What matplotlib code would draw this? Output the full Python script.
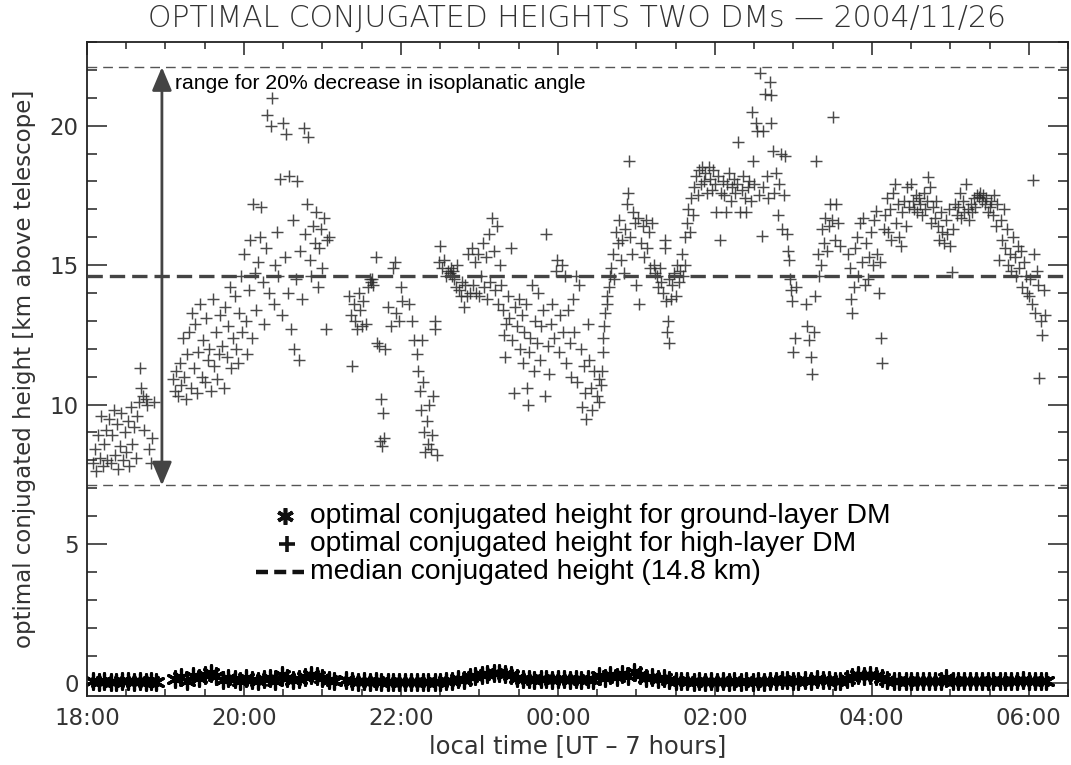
import matplotlib
matplotlib.use("Agg")
import matplotlib.pyplot as plt
from matplotlib.lines import Line2D
import numpy as np

# ---------------- data ----------------
title = "OPTIMAL CONJUGATED HEIGHTS TWO DMs \u2014 2004/11/26"
x_label = "local time [UT \u2013 7 hours]"
y_label = "optimal conjugated height [km above telescope]"
x_tick_pos = [18, 20, 22, 24, 26, 28, 30]
x_tick_labels = ["18:00", "20:00", "22:00", "00:00", "02:00", "04:00", "06:00"]
y_tick_pos = [0, 5, 10, 15, 20]

range_high = 22.1     # km, upper limit for 20% decrease
range_low = 7.1       # km, lower limit
median_height = 14.6  # km, drawn median line
arrow_time = 18.955   # local time of the range arrow
range_text = "range for 20% decrease in isoplanatic angle"
range_text_pos = (19.12, 21.5)

legend_labels = ["optimal conjugated height for ground-layer DM",
                 "optimal conjugated height for high-layer DM",
                 "median conjugated height (14.8 km)"]

# ground-layer DM (time [h since 0h of 2004/11/26, >24 = next day], height km)
ground_time = [
    18.08, 18.15, 18.22, 18.30, 18.37, 18.45, 18.52, 18.60, 18.67, 18.75, 18.82, 18.88,
    19.12, 19.20, 19.28, 19.35, 19.43, 19.50, 19.58, 19.65, 19.73, 19.80, 19.88, 19.95,
    20.03, 20.10, 20.18, 20.25, 20.33, 20.40, 20.48, 20.55, 20.63, 20.70, 20.78, 20.85,
    20.93, 21.00, 21.08, 21.15,
    21.30, 21.38, 21.45, 21.53, 21.60, 21.68, 21.75, 21.83, 21.90, 21.98, 22.05, 22.13,
    22.20, 22.28, 22.35, 22.43, 22.50,
    22.58, 22.65, 22.73, 22.80, 22.88, 22.95, 23.03, 23.10, 23.18, 23.25, 23.33, 23.40,
    23.48, 23.55, 23.63, 23.70, 23.78, 23.85, 23.93, 24.00, 24.08, 24.15, 24.23, 24.30,
    24.38, 24.45,
    24.52, 24.60, 24.67, 24.75, 24.82, 24.90, 24.97, 25.05, 25.12, 25.20, 25.27, 25.35,
    25.42, 25.50, 25.57,
    25.65, 25.73, 25.80, 25.88, 25.95, 26.03, 26.10, 26.18, 26.25, 26.33, 26.40, 26.48,
    26.55, 26.63, 26.70, 26.78, 26.85,
    26.92, 27.00, 27.06, 27.15, 27.23, 27.30, 27.38, 27.45, 27.53, 27.60,
    27.69, 27.75, 27.83, 27.90, 27.98, 28.05, 28.13, 28.20, 28.28, 28.35, 28.43, 28.50,
    28.58, 28.65, 28.73, 28.80, 28.88, 28.95, 29.03, 29.10, 29.18, 29.25, 29.33, 29.40,
    29.48, 29.55, 29.63, 29.70, 29.78, 29.85, 29.93, 30.00, 30.08, 30.15, 30.22]
ground_height = [
    0.08, 0.05, 0.10, 0.06, 0.05, 0.09, 0.07, 0.05, 0.10, 0.06, 0.08, 0.05,
    0.15, 0.22, 0.10, 0.28, 0.18, 0.30, 0.38, 0.25, 0.12, 0.20, 0.15, 0.10,
    0.18, 0.12, 0.08, 0.15, 0.20, 0.10, 0.32, 0.18, 0.12, 0.15, 0.22, 0.30,
    0.25, 0.18, 0.12, 0.08,
    0.12, 0.08, 0.06, 0.07, 0.05, 0.07, 0.06, 0.05, 0.06, 0.05, 0.06, 0.05,
    0.05, 0.06, 0.05, 0.06, 0.06,
    0.08, 0.10, 0.15, 0.12, 0.22, 0.28, 0.32, 0.35, 0.38, 0.36, 0.33, 0.30,
    0.20, 0.16, 0.15, 0.14, 0.16, 0.15, 0.13, 0.15, 0.16, 0.14, 0.15, 0.13,
    0.16, 0.14,
    0.25, 0.18, 0.30, 0.22, 0.35, 0.28, 0.40, 0.30, 0.20, 0.24, 0.15, 0.18,
    0.12, 0.10, 0.08,
    0.07, 0.06, 0.07, 0.06, 0.07, 0.06, 0.07, 0.06, 0.07, 0.06, 0.07, 0.06,
    0.07, 0.06, 0.07, 0.08, 0.12,
    0.14, 0.10, 0.08, 0.12, 0.09, 0.15, 0.12, 0.11, 0.09, 0.10,
    0.15, 0.22, 0.30, 0.25, 0.32, 0.28, 0.18, 0.12, 0.10, 0.09, 0.08, 0.07,
    0.08, 0.07, 0.07, 0.08, 0.07, 0.20, 0.07, 0.07, 0.08, 0.07, 0.08, 0.07,
    0.07, 0.08, 0.07, 0.07, 0.09, 0.10, 0.12, 0.09, 0.10, 0.08, 0.07]

# high-layer DM, (time, height km) pairs per stretch of the night
high_1800 = [(18.08, 7.9), (18.10, 8.4), (18.12, 7.6), (18.14, 8.9), (18.16, 8.1), (18.18, 9.6),
             (18.20, 7.8), (18.22, 8.6), (18.24, 9.1), (18.26, 8.0), (18.28, 9.5), (18.30, 7.9),
             (18.32, 8.9), (18.34, 9.8), (18.36, 8.2), (18.38, 9.3), (18.40, 7.7), (18.42, 8.5),
             (18.44, 9.7), (18.46, 8.0), (18.48, 9.0), (18.50, 8.3), (18.52, 9.4), (18.54, 7.8),
             (18.56, 9.9), (18.58, 8.6), (18.60, 9.2), (18.62, 8.1), (18.64, 9.6), (18.66, 10.1),
             (18.67, 11.3), (18.69, 10.6), (18.71, 10.3), (18.73, 9.1), (18.75, 10.2), (18.77, 10.0),
             (18.79, 8.4), (18.81, 7.9), (18.83, 8.8), (18.85, 10.1)]
high_1900 = [(19.10, 10.9), (19.12, 10.5), (19.14, 11.2), (19.16, 10.3), (19.18, 11.5), (19.20, 10.7),
             (19.22, 12.4), (19.24, 11.0), (19.26, 10.2), (19.28, 11.8), (19.30, 12.6), (19.32, 10.6),
             (19.34, 13.3), (19.36, 11.3), (19.38, 12.9), (19.40, 10.4), (19.42, 11.9), (19.44, 13.6),
             (19.46, 11.0), (19.48, 12.3), (19.50, 10.8), (19.52, 13.1), (19.54, 11.6), (19.56, 12.0),
             (19.58, 10.5), (19.60, 13.8), (19.62, 11.4), (19.64, 12.6), (19.66, 10.9), (19.68, 11.8),
             (19.70, 13.2), (19.72, 12.1), (19.74, 10.6), (19.76, 13.5), (19.78, 11.7), (19.80, 12.8),
             (19.82, 14.2), (19.84, 11.3), (19.86, 12.4), (19.88, 13.9), (19.90, 12.0), (19.92, 11.5),
             (19.94, 13.3), (19.96, 14.6), (19.98, 12.6)]
high_2000 = [(20.00, 15.4), (20.02, 13.0), (20.04, 11.8), (20.06, 14.1), (20.08, 15.9), (20.10, 12.4),
             (20.12, 17.2), (20.14, 14.7), (20.16, 13.4), (20.18, 15.1), (20.20, 16.0), (20.22, 17.1),
             (20.24, 14.4), (20.26, 12.9), (20.28, 15.6), (20.30, 20.4), (20.32, 14.0), (20.34, 20.0),
             (20.36, 21.0), (20.38, 13.6), (20.40, 15.0), (20.42, 16.2), (20.44, 14.6), (20.46, 18.1),
             (20.48, 13.2), (20.50, 20.1), (20.52, 15.3), (20.54, 19.7), (20.56, 14.0), (20.58, 18.2),
             (20.60, 12.7), (20.62, 16.6), (20.64, 12.0), (20.66, 14.5), (20.68, 18.0), (20.70, 11.6),
             (20.72, 15.5), (20.74, 13.8), (20.76, 19.9), (20.78, 16.1), (20.80, 17.2), (20.82, 19.6),
             (20.84, 15.2), (20.86, 14.6), (20.88, 16.4), (20.90, 15.8), (20.92, 16.9), (20.94, 14.2),
             (20.96, 15.6), (20.98, 16.3), (21.00, 14.9), (21.02, 16.7), (21.04, 12.7), (21.06, 15.9),
             (21.08, 16.0)]
high_2100 = [(21.34, 13.9), (21.36, 13.2), (21.38, 11.4), (21.40, 13.6), (21.42, 13.0), (21.44, 12.7),
             (21.46, 14.0), (21.48, 13.4), (21.50, 12.8), (21.52, 13.7), (21.55, 12.9), (21.58, 14.2),
             (21.60, 14.5), (21.62, 14.4), (21.63, 14.5), (21.65, 14.3), (21.68, 15.3), (21.70, 12.2),
             (21.72, 12.1), (21.74, 8.7), (21.75, 10.2), (21.76, 8.5), (21.77, 9.7), (21.78, 8.8),
             (21.80, 12.0), (21.84, 13.5), (21.87, 12.8), (21.90, 14.9), (21.92, 15.1), (21.94, 13.3),
             (21.97, 13.0)]
high_2200 = [(22.00, 14.2), (22.02, 13.7), (22.10, 13.6), (22.14, 13.0), (22.17, 12.3), (22.20, 11.8),
             (22.22, 11.2), (22.24, 10.5), (22.26, 9.8), (22.27, 12.3), (22.28, 10.8), (22.30, 9.0),
             (22.31, 8.3), (22.33, 9.4), (22.35, 8.6), (22.36, 10.0), (22.38, 8.4), (22.40, 8.9),
             (22.41, 10.3), (22.43, 13.0), (22.44, 12.7), (22.46, 8.2),
             (22.48, 15.1), (22.50, 15.7), (22.52, 14.9), (22.55, 15.2), (22.58, 14.6), (22.60, 14.8),
             (22.62, 14.7), (22.64, 14.9), (22.65, 14.6), (22.66, 14.8), (22.68, 14.5), (22.70, 14.2),
             (22.72, 15.0), (22.74, 14.1), (22.76, 13.9), (22.78, 14.4), (22.80, 13.5), (22.82, 14.3),
             (22.84, 13.9), (22.86, 15.4), (22.88, 14.0), (22.90, 15.6), (22.92, 14.3), (22.94, 15.1),
             (22.96, 14.0), (22.98, 15.4)]
high_2300 = [(23.00, 13.9), (23.02, 14.6), (23.04, 15.8), (23.06, 14.2), (23.08, 15.3), (23.10, 13.8),
             (23.12, 16.1), (23.14, 14.4), (23.16, 16.7), (23.18, 15.5), (23.20, 14.1), (23.22, 16.4),
             (23.24, 13.6), (23.26, 15.0), (23.28, 14.3), (23.30, 13.4), (23.32, 12.5), (23.33, 11.7),
             (23.34, 12.9), (23.36, 13.9), (23.38, 13.1), (23.40, 15.6), (23.42, 12.3), (23.44, 10.4),
             (23.46, 13.5), (23.48, 12.8), (23.50, 13.8), (23.52, 12.0), (23.54, 13.2), (23.55, 11.5),
             (23.57, 12.6), (23.59, 13.6), (23.61, 10.6), (23.62, 10.0), (23.63, 11.9), (23.65, 12.4),
             (23.67, 14.3), (23.69, 11.2), (23.71, 13.0), (23.73, 12.2), (23.75, 14.0), (23.77, 11.6),
             (23.79, 12.8), (23.81, 13.4), (23.83, 10.3), (23.85, 16.1), (23.87, 12.1), (23.89, 11.1),
             (23.91, 12.9), (23.93, 13.6), (23.95, 12.4), (23.97, 14.8), (23.99, 15.2)]
high_0000 = [(24.01, 11.9), (24.03, 13.2), (24.05, 15.0), (24.07, 12.6), (24.09, 14.6), (24.11, 11.5),
             (24.13, 13.4), (24.15, 12.2), (24.17, 11.0), (24.19, 13.8), (24.21, 12.6), (24.23, 14.6),
             (24.25, 10.8), (24.27, 14.3), (24.29, 12.0), (24.31, 9.9), (24.33, 11.4), (24.35, 10.4),
             (24.36, 9.5), (24.38, 12.9), (24.40, 11.6), (24.42, 10.6), (24.44, 9.8), (24.46, 11.2),
             (24.50, 10.3), (24.52, 10.9), (24.53, 10.1), (24.55, 10.7), (24.56, 11.2), (24.57, 11.9),
             (24.58, 12.4), (24.59, 12.8), (24.60, 13.3), (24.62, 13.6), (24.63, 13.9), (24.65, 14.2),
             (24.66, 14.6), (24.68, 14.9), (24.70, 15.4), (24.72, 14.5), (24.74, 16.2), (24.76, 15.8),
             (24.78, 16.6), (24.80, 15.2), (24.82, 15.9), (24.84, 14.7), (24.86, 16.3), (24.88, 17.2),
             (24.90, 17.6), (24.91, 18.75), (24.92, 16.0), (24.94, 15.4), (24.96, 16.9), (24.98, 16.5)]
high_0100 = [(25.00, 14.3), (25.02, 16.7), (25.04, 13.6), (25.06, 15.8), (25.08, 16.4), (25.10, 15.3),
             (25.12, 16.6), (25.14, 15.6), (25.16, 16.2), (25.18, 14.9), (25.20, 16.5), (25.22, 15.0),
             (25.24, 14.7), (25.26, 14.6), (25.28, 14.2), (25.30, 14.9), (25.32, 14.4), (25.34, 14.0),
             (25.36, 15.9), (25.37, 15.6), (25.38, 13.7), (25.39, 12.6), (25.40, 13.0), (25.41, 12.2),
             (25.42, 14.5), (25.44, 13.8), (25.46, 14.3), (25.48, 14.7), (25.50, 13.9), (25.52, 15.0),
             (25.54, 14.4), (25.56, 14.8), (25.58, 15.4), (25.60, 14.6), (25.62, 15.0), (25.62, 16.0),
             (25.64, 16.5), (25.66, 17.0), (25.68, 16.2), (25.70, 17.4), (25.72, 16.8), (25.74, 17.8),
             (25.76, 18.2), (25.78, 17.5), (25.80, 18.4), (25.82, 17.9), (25.84, 18.5), (25.86, 18.0),
             (25.88, 18.3), (25.90, 17.6), (25.92, 18.5), (25.94, 18.1), (25.96, 17.7), (25.98, 18.4)]
high_0200 = [(26.00, 17.9), (26.02, 16.9), (26.04, 18.2), (26.06, 15.9), (26.08, 17.6), (26.10, 18.0),
             (26.12, 17.5), (26.14, 16.9), (26.16, 17.9), (26.18, 18.3), (26.20, 17.3), (26.22, 17.8),
             (26.24, 18.1), (26.26, 17.6), (26.28, 17.9), (26.30, 19.4), (26.32, 16.9), (26.34, 17.7),
             (26.36, 18.2), (26.38, 17.4), (26.40, 16.9), (26.42, 17.8), (26.44, 18.0), (26.46, 17.3),
             (26.47, 20.5), (26.49, 18.75), (26.50, 17.9), (26.52, 20.1), (26.54, 19.8), (26.56, 17.5),
             (26.58, 21.9), (26.60, 16.05), (26.61, 19.8), (26.62, 17.8), (26.64, 21.15), (26.66, 18.2),
             (26.68, 17.4), (26.70, 21.55), (26.71, 21.1), (26.72, 20.1), (26.74, 19.1), (26.76, 17.6),
             (26.78, 18.3), (26.80, 16.8), (26.82, 17.9), (26.84, 19.0), (26.86, 16.3), (26.88, 17.5),
             (26.90, 18.9), (26.92, 16.1), (26.93, 15.5), (26.95, 15.2), (26.96, 14.5), (26.97, 14.1),
             (26.98, 13.7)]
high_0300 = [(27.00, 11.9), (27.02, 12.4), (27.04, 14.2), (27.16, 13.6), (27.18, 12.8), (27.20, 12.3),
             (27.22, 11.7), (27.24, 11.1), (27.26, 12.6), (27.28, 13.9), (27.29, 18.75), (27.31, 15.4),
             (27.33, 14.6), (27.35, 15.0), (27.37, 16.3), (27.39, 15.8), (27.41, 16.7), (27.43, 15.5),
             (27.45, 16.4), (27.47, 17.2), (27.49, 16.6), (27.51, 20.3), (27.53, 15.9), (27.55, 17.2),
             (27.57, 16.5), (27.59, 15.7), (27.70, 15.4), (27.72, 14.9), (27.74, 13.8), (27.75, 13.3),
             (27.77, 14.2), (27.79, 15.6), (27.81, 16.0), (27.83, 14.6), (27.85, 16.5), (27.87, 15.1),
             (27.89, 16.7), (27.91, 14.3), (27.93, 15.8), (27.95, 14.5), (27.97, 15.3), (27.99, 16.2)]
high_0400 = [(28.01, 15.0), (28.03, 16.6), (28.05, 16.95), (28.07, 15.4), (28.09, 14.0), (28.11, 15.1),
             (28.12, 12.4), (28.13, 11.5), (28.15, 16.3), (28.17, 16.8), (28.19, 17.4), (28.21, 16.2),
             (28.23, 17.0), (28.25, 15.9), (28.27, 17.6), (28.29, 17.9), (28.31, 16.5), (28.33, 17.2),
             (28.35, 16.0), (28.37, 15.7), (28.39, 16.9), (28.41, 17.3), (28.43, 16.4), (28.45, 17.8),
             (28.47, 17.1), (28.50, 17.9), (28.52, 17.3), (28.54, 17.0), (28.56, 17.5), (28.58, 16.9),
             (28.60, 17.4), (28.62, 17.2), (28.64, 16.8), (28.66, 17.6), (28.68, 17.0), (28.70, 17.3),
             (28.72, 18.15), (28.74, 17.8), (28.76, 16.5), (28.78, 17.1), (28.80, 16.7), (28.82, 17.3),
             (28.84, 16.4), (28.86, 15.9), (28.88, 16.9), (28.90, 16.2), (28.92, 15.8), (28.94, 16.6),
             (28.96, 16.1), (28.98, 17.0)]
high_0500 = [(29.00, 15.7), (29.02, 14.75), (29.04, 16.3), (29.06, 17.2), (29.08, 16.8), (29.10, 17.1),
             (29.12, 17.6), (29.14, 16.7), (29.16, 17.3), (29.18, 16.9), (29.20, 17.9), (29.22, 17.0),
             (29.24, 16.6), (29.26, 17.2), (29.28, 16.9), (29.30, 17.4), (29.32, 17.1), (29.34, 17.5),
             (29.36, 17.45), (29.38, 17.6), (29.40, 17.3), (29.42, 17.5), (29.44, 17.2), (29.46, 17.4),
             (29.48, 16.9), (29.50, 17.1), (29.52, 17.3), (29.54, 16.8), (29.56, 17.5), (29.58, 16.4),
             (29.60, 17.2), (29.62, 15.2), (29.64, 16.6), (29.66, 15.9), (29.68, 17.0), (29.70, 15.6),
             (29.72, 16.3), (29.74, 15.0), (29.76, 15.4), (29.78, 14.8), (29.80, 16.0), (29.82, 15.3),
             (29.84, 14.6), (29.86, 15.7), (29.88, 14.9), (29.90, 15.5), (29.92, 14.2), (29.94, 15.1),
             (29.96, 14.6), (29.98, 14.0)]
high_0600 = [(30.00, 13.9), (30.02, 14.5), (30.04, 13.6), (30.06, 18.05), (30.07, 15.4), (30.08, 13.3),
             (30.10, 14.8), (30.12, 14.3), (30.13, 10.95), (30.15, 13.0), (30.17, 12.5), (30.19, 14.1),
             (30.21, 13.2)]

high_layer = (high_1800 + high_1900 + high_2000 + high_2100 + high_2200 + high_2300 +
              high_0000 + high_0100 + high_0200 + high_0300 + high_0400 + high_0500 + high_0600)
high_time = [p[0] for p in high_layer]
high_height = [p[1] for p in high_layer]

# ---------------- figure ----------------
plt.rcParams['font.family'] = ['DejaVu Sans']
fig = plt.figure(figsize=(10.71, 7.65), dpi=100)
ax = fig.add_axes([0.0812, 0.0902, 0.9160, 0.8549])

ax.set_xlim(18, 30.5)
ax.set_ylim(-0.45, 23.0)

frame_col = '#222222'
for s in ax.spines.values():
    s.set_linewidth(1.3)
    s.set_color(frame_col)

# reference lines
ax.axhline(range_high, color='#555555', lw=1.0, dashes=(7, 4.3), zorder=1)
ax.axhline(range_low, color='#555555', lw=1.0, dashes=(7, 4.3), zorder=1)
ax.axhline(median_height, color='#444444', lw=2.4, dashes=(4.6, 2.1), zorder=3)

# data
ax.scatter(high_time, high_height, marker='+', s=68, c='#2a2a2a',
           linewidths=1.05, alpha=0.85, zorder=2)
ax.scatter(ground_time, ground_height, marker=(6, 2, 0), s=125, c='#000000',
           linewidths=2.3, zorder=2)

# range arrow and text
ax.annotate('', xy=(arrow_time, range_high), xytext=(arrow_time, range_low),
            arrowprops=dict(arrowstyle='<|-|>,head_length=0.95,head_width=0.4',
                            color='#444444', lw=2.0, mutation_scale=15,
                            shrinkA=0, shrinkB=0), zorder=4)
ax.text(range_text_pos[0], range_text_pos[1], range_text,
        family='Liberation Sans', fontsize=15.2, color='#000000',
        ha='left', va='center', zorder=5)

# ticks
ax.set_xticks(x_tick_pos)
ax.set_xticklabels(x_tick_labels)
ax.set_xticks(np.arange(18, 30.51, 0.5), minor=True)
ax.set_yticks(y_tick_pos)
ax.set_yticks(np.arange(0, 23.01, 1), minor=True)
ax.tick_params(axis='both', which='both', direction='in', top=True, right=True,
               color=frame_col, width=1.1)
ax.tick_params(axis='x', which='major', length=9.5, pad=8, labelsize=16.5, labelcolor='#333333')
ax.tick_params(axis='x', which='minor', length=5)
ax.tick_params(axis='y', which='major', length=14.5, pad=6, labelsize=16.5, labelcolor='#333333')
ax.tick_params(axis='y', which='minor', length=7)

ax.set_xlabel(x_label, fontsize=17.5, color='#333333')
ax.xaxis.set_label_coords(0.5, -0.058)
ax.set_ylabel(y_label, fontsize=16.5, color='#333333')
ax.yaxis.set_label_coords(-0.052, 0.5)

fig.text(0.5388, 0.9765, title, fontsize=21.5, color='#333333', fontweight='light',
         ha='center', va='center')

# legend (drawn manually to match the compact row spacing)
leg_rows_y = [0.2752, 0.2324, 0.1896]
leg_text_x = 0.2273
tr = ax.transAxes
ax.add_line(Line2D([0.2018], [leg_rows_y[0]], transform=tr, marker=(6, 2, 0),
                   markersize=12, mew=2.6, color='#111111', linestyle='None'))
ax.add_line(Line2D([0.2035], [leg_rows_y[1]], transform=tr, marker='+',
                   markersize=11, mew=2.6, color='#111111', linestyle='None'))
ax.add_line(Line2D([0.172, 0.221], [leg_rows_y[2]] * 2, transform=tr,
                   color='#111111', lw=3.2, dashes=(2.7, 1.4)))
for yy, lab in zip(leg_rows_y, legend_labels):
    ax.text(leg_text_x, yy, lab, transform=tr, family='Liberation Sans',
            fontsize=20.3, color='#000000', ha='left', va='center')

fig.savefig('out.png', dpi=100)
